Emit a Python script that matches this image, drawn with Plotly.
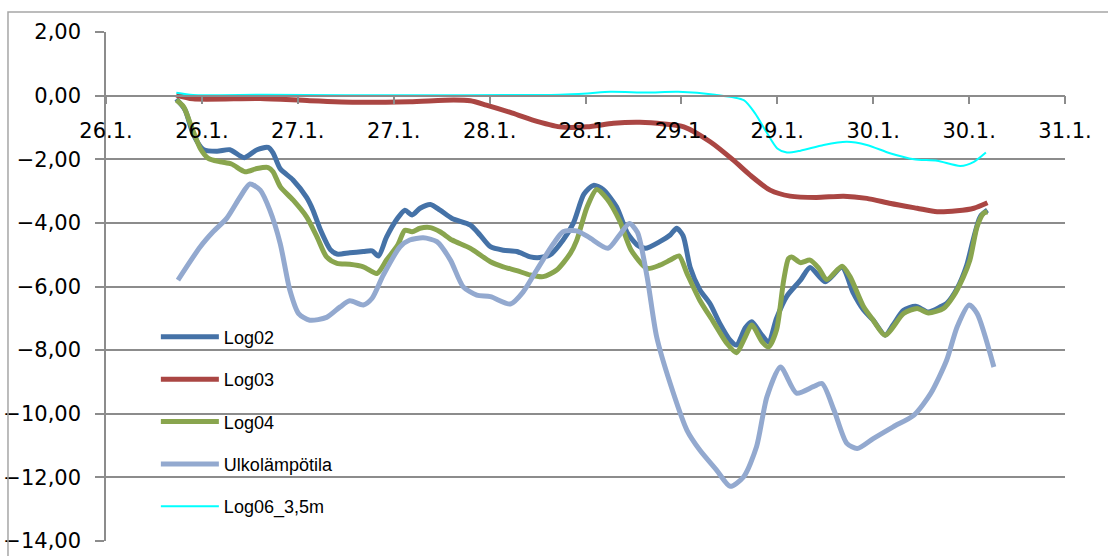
import plotly.graph_objects as go

# Time axis: hours counted from 26.1. 00:00, ticks every 12 h
tick_hours = [0, 12, 24, 36, 48, 60, 72, 84, 96, 108, 120]
tick_labels = ["26.1.", "26.1.", "27.1.", "27.1.", "28.1.", "28.1.",
               "29.1.", "29.1.", "30.1.", "30.1.", "31.1."]

log02_h = [8.8, 9.9, 10.9, 12.2, 13.9, 15.5, 17.3, 18.9, 20.3, 20.9, 21.8, 23.4,
           25.1, 25.9, 26.8, 28.1, 28.9, 30.5, 32.2, 33.3, 34.1, 35.1, 36.5, 37.4,
           38.3, 39.3, 40.6, 41.8, 43.3, 45.6, 46.8, 48.1, 49.7, 51.4, 53.1, 54.3,
           55.6, 57.2, 58.5, 59.8, 61.0, 62.2, 63.9, 65.2, 66.5, 67.5, 69.3, 70.6,
           71.4, 72.2, 73.1, 74.3, 75.6, 76.8, 78.1, 78.9, 80.0, 80.8, 81.9, 82.9,
           83.9, 85.2, 86.9, 88.1, 90.0, 92.1, 93.5, 94.8, 96.0, 97.5, 98.5, 99.8,
           101.3, 102.9, 104.4, 105.2, 106.5, 107.7, 108.5, 109.4, 110.3]
log02_v = [-0.10, -0.45, -1.20, -1.70, -1.75, -1.70, -1.95, -1.70, -1.63, -1.80, -2.30, -2.65,
           -3.20, -3.60, -4.20, -4.85, -4.98, -4.94, -4.90, -4.88, -5.04, -4.45, -3.85, -3.60,
           -3.75, -3.54, -3.42, -3.60, -3.86, -4.07, -4.38, -4.75, -4.86, -4.90, -5.07, -5.09,
           -5.00, -4.54, -4.00, -3.10, -2.82, -2.95, -3.50, -4.30, -4.70, -4.80, -4.59, -4.38,
           -4.17, -4.40, -5.40, -6.10, -6.55, -7.16, -7.69, -7.84, -7.30, -7.11, -7.47, -7.74,
           -7.00, -6.30, -5.80, -5.40, -5.85, -5.40, -6.20, -6.74, -7.06, -7.53, -7.20, -6.75,
           -6.62, -6.80, -6.64, -6.53, -6.06, -5.33, -4.54, -3.80, -3.60]

log03_h = [8.8, 10.9, 19.3, 25.5, 31.8, 38.0, 43.5, 45.6, 47.6, 50.6, 53.3, 56.8,
           60.2, 63.5, 66.8, 69.8, 72.3, 75.6, 78.5, 80.6, 83.1, 85.6, 88.9, 92.3,
           95.2, 98.2, 101.5, 104.0, 106.5, 108.6, 110.3]
log03_v = [0.02, -0.10, -0.09, -0.16, -0.21, -0.19, -0.14, -0.16, -0.30, -0.53, -0.76, -0.98,
           -0.98, -0.87, -0.84, -0.89, -0.98, -1.45, -2.03, -2.50, -2.97, -3.16, -3.20, -3.16,
           -3.23, -3.39, -3.54, -3.65, -3.62, -3.54, -3.37]

log04_h = [8.8, 9.7, 10.7, 11.8, 12.8, 14.3, 15.7, 17.4, 18.9, 20.3, 20.9, 21.8,
           23.4, 25.1, 26.4, 27.6, 28.9, 30.5, 32.2, 33.9, 35.1, 36.5, 37.4, 38.3,
           39.3, 40.6, 41.8, 43.3, 45.6, 48.1, 49.7, 51.4, 53.1, 54.7, 56.4, 58.1,
           58.9, 60.2, 61.4, 62.7, 64.3, 65.7, 67.7, 69.3, 70.6, 71.7, 72.7, 74.3,
           76.0, 77.7, 78.9, 80.0, 80.8, 82.1, 82.9, 83.9, 84.8, 85.4, 85.8, 86.9,
           88.1, 89.2, 90.2, 92.1, 93.1, 94.8, 96.0, 97.5, 99.8, 101.5, 102.9, 104.8,
           106.0, 107.3, 108.1, 109.0, 109.8, 110.3]
log04_v = [-0.14, -0.35, -0.98, -1.66, -1.97, -2.08, -2.15, -2.39, -2.29, -2.26, -2.39, -2.86,
           -3.28, -3.81, -4.44, -5.07, -5.27, -5.30, -5.38, -5.59, -5.17, -4.70, -4.23, -4.28,
           -4.17, -4.15, -4.28, -4.54, -4.80, -5.22, -5.38, -5.50, -5.64, -5.69, -5.48, -4.96,
           -4.55, -3.50, -2.95, -3.25, -3.95, -4.85, -5.43, -5.33, -5.17, -5.04, -5.59, -6.43,
           -7.11, -7.79, -8.08, -7.58, -7.21, -7.74, -7.90, -7.37, -5.80, -5.12, -5.07, -5.25,
           -5.17, -5.43, -5.78, -5.36, -5.69, -6.64, -7.06, -7.53, -6.85, -6.69, -6.83, -6.69,
           -6.32, -5.69, -5.17, -4.12, -3.70, -3.65]

ulko_h = [9.0, 11.8, 13.4, 15.1, 16.8, 18.0, 19.3, 20.5, 21.8, 23.0, 24.1, 25.5,
          27.6, 29.3, 30.5, 32.2, 33.3, 34.7, 36.8, 38.0, 39.7, 41.4, 43.1, 44.7,
          46.4, 48.1, 50.6, 52.2, 53.9, 56.0, 57.2, 58.9, 60.4, 62.8, 64.2, 65.5,
          66.5, 67.7, 68.9, 70.6, 72.7, 74.3, 76.4, 78.1, 79.8, 81.4, 82.7, 84.4,
          86.4, 88.5, 89.6, 91.1, 92.7, 94.0, 96.0, 98.5, 101.1, 103.2, 105.2, 106.5,
          108.0, 109.0, 111.1]
ulko_v = [-5.80, -4.75, -4.28, -3.86, -3.18, -2.78, -2.97, -3.60, -4.65, -6.11, -6.85, -7.06,
          -6.97, -6.64, -6.45, -6.58, -6.37, -5.64, -4.75, -4.54, -4.47, -4.59, -5.17, -6.01,
          -6.27, -6.32, -6.55, -6.17, -5.48, -4.65, -4.28, -4.25, -4.45, -4.80, -4.40, -4.02,
          -4.30, -5.69, -7.58, -9.05, -10.52, -11.14, -11.77, -12.28, -11.98, -11.04, -9.47, -8.53,
          -9.35, -9.15, -9.05, -9.89, -10.93, -11.09, -10.78, -10.41, -10.04, -9.36, -8.31, -7.27,
          -6.58, -6.85, -8.53]

log06_h = [8.8, 10.9, 20.0, 30.0, 40.0, 50.0, 56.8, 60.2, 63.1, 67.7, 71.6, 76.2,
           79.8, 81.2, 82.6, 84.0, 85.2, 86.9, 89.8, 92.7, 95.2, 98.1, 101.1, 104.0,
           106.9, 108.6, 110.1]
log06_v = [0.09, 0.02, 0.03, 0.01, 0.01, 0.02, 0.03, 0.07, 0.12, 0.10, 0.12, 0.03,
           -0.14, -0.55, -1.13, -1.66, -1.79, -1.73, -1.55, -1.45, -1.55, -1.81, -2.00, -2.05,
           -2.21, -2.08, -1.79]

series = [
    ("Log02", log02_h, log02_v, "#4572A7", 5),
    ("Log03", log03_h, log03_v, "#AA4643", 5),
    ("Log04", log04_h, log04_v, "#89A54E", 5),
    ("Ulkolämpötila", ulko_h, ulko_v, "#93A9CF", 5),
    ("Log06_3,5m", log06_h, log06_v, "#00FFFF", 2),
]

fig = go.Figure()
for i, (name, xs, ys, color, width) in enumerate(series):
    fig.add_trace(go.Scatter(
        x=xs, y=ys, name=name, mode="lines", legendgroup=f"g{i}",
        line=dict(color=color, width=width, shape="spline", smoothing=0.7),
    ))

grid = "#8c8c8c"
tick_font = dict(family="DejaVu Sans", size=21, color="black")

fig.update_layout(
    width=1108, height=556,
    margin=dict(l=106, r=43, t=32, b=15, autoexpand=False),
    paper_bgcolor="white", plot_bgcolor="white",
    separators=", ",
    showlegend=True,
    legend=dict(
        x=0.052, y=0.437, xanchor="left", yanchor="top",
        bgcolor="rgba(0,0,0,0)", borderwidth=0,
        font=dict(family="Liberation Sans", size=18, color="black"),
        itemwidth=58, tracegroupgap=16, traceorder="grouped",
    ),
    xaxis=dict(
        range=[0, 120], tickmode="array", tickvals=tick_hours, ticktext=tick_labels,
        anchor="free", position=14 / 16, showgrid=False, zeroline=False,
        showline=True, linecolor=grid, linewidth=1.5, automargin=False,
        ticks="outside", ticklen=8, tickcolor=grid, tickwidth=1.5,
        tickfont=tick_font, ticklabelstandoff=8,
    ),
    yaxis=dict(
        range=[-14, 2], dtick=2, tick0=0, tickformat=".2f",
        showgrid=True, gridcolor=grid, gridwidth=1.5, zeroline=False,
        showline=True, linecolor=grid, linewidth=1.5, automargin=False,
        ticks="outside", ticklen=9, tickcolor=grid, tickwidth=1.5,
        tickfont=tick_font, ticklabelstandoff=10,
    ),
    shapes=[dict(
        type="rect", xref="paper", yref="paper",
        x0=-0.1022, x1=1.06, y0=-0.06, y1=1.0393,
        line=dict(color="#a6a6a6", width=1.5), fillcolor="rgba(0,0,0,0)",
        layer="above",
    )],
)

fig.write_html("out.html")
